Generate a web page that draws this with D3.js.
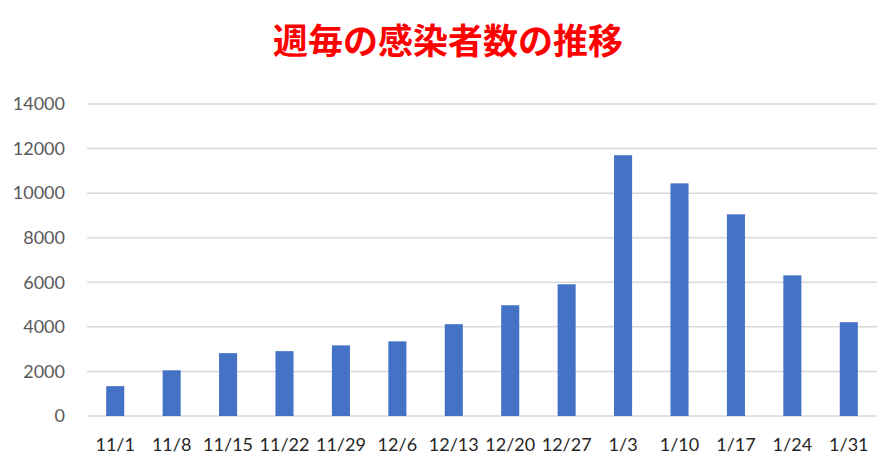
<!DOCTYPE html>
<html>
<head>
<meta charset="utf-8">
<script src="https://cdn.jsdelivr.net/npm/d3@7"></script>
<style>
  body { margin: 0; background: #fff; }
</style>
</head>
<body>
<div id="chart"></div>
<script>
// Data
const weeks = ['11/1', '11/8', '11/15', '11/22', '11/29', '12/6', '12/13', '12/20', '12/27', '1/3', '1/10', '1/17', '1/24', '1/31']
const cases = [1340, 2050, 2820, 2910, 3170, 3350, 4120, 4970, 5910, 11700, 10440, 9050, 6310, 4210]
const yTicks = [0, 2000, 4000, 6000, 8000, 10000, 12000, 14000]
const title = '週毎の感染者数の推移'

// Dimensions
const width = 883
const height = 466
const margin = { top: 104, right: 6, bottom: 50, left: 87 }
const ctrWidth = width - margin.left - margin.right
const ctrHeight = height - margin.top - margin.bottom

const svg = d3.select('#chart')
  .append('svg')
  .attr('width', width)
  .attr('height', height)

const ctr = svg.append('g')
  .attr('transform', `translate(${margin.left},${margin.top})`)

// Scales
const xScale = d3.scaleBand()
  .domain(weeks)
  .range([0, ctrWidth])
  .paddingInner(0.68)
  .paddingOuter(0.34)

const yScale = d3.scaleLinear()
  .domain([0, 14000])
  .range([ctrHeight, 0])

// Grid lines
ctr.selectAll('.grid')
  .data(yTicks)
  .join('line')
  .attr('class', 'grid')
  .attr('x1', 0)
  .attr('x2', ctrWidth)
  .attr('y1', d => yScale(d))
  .attr('y2', d => yScale(d))
  .attr('stroke', '#d9d9d9')
  .attr('stroke-width', 1.5)

// Bars
ctr.selectAll('rect')
  .data(cases)
  .join('rect')
  .attr('x', (d, i) => xScale(weeks[i]))
  .attr('y', d => yScale(d))
  .attr('width', xScale.bandwidth())
  .attr('height', d => ctrHeight - yScale(d))
  .attr('fill', '#4472c4')

// Axes
const yAxis = d3.axisLeft(yScale)
  .tickValues(yTicks)
  .tickFormat(d3.format('d'))
  .tickSize(0)
  .tickPadding(22)

const yAxisGroup = ctr.append('g').call(yAxis)
yAxisGroup.select('.domain').remove()
yAxisGroup.selectAll('text')
  .attr('font-family', 'Lato, "Open Sans", sans-serif')
  .attr('font-size', 18)
  .attr('fill', '#595959')

const xAxis = d3.axisBottom(xScale)
  .tickSize(0)
  .tickPadding(22)

const xAxisGroup = ctr.append('g')
  .attr('transform', `translate(0,${ctrHeight})`)
  .call(xAxis)
xAxisGroup.select('.domain').remove()
xAxisGroup.selectAll('text')
  .attr('font-family', 'Lato, "Open Sans", sans-serif')
  .attr('font-size', 18)
  .attr('fill', '#262626')

// Title
svg.append('text')
  .attr('x', 448)
  .attr('y', 54)
  .attr('text-anchor', 'middle')
  .attr('font-family', '"Noto Sans CJK JP", sans-serif')
  .attr('font-weight', 'bold')
  .attr('font-size', 35)
  .attr('fill', '#ff0000')
  .text(title)
</script>
</body>
</html>
